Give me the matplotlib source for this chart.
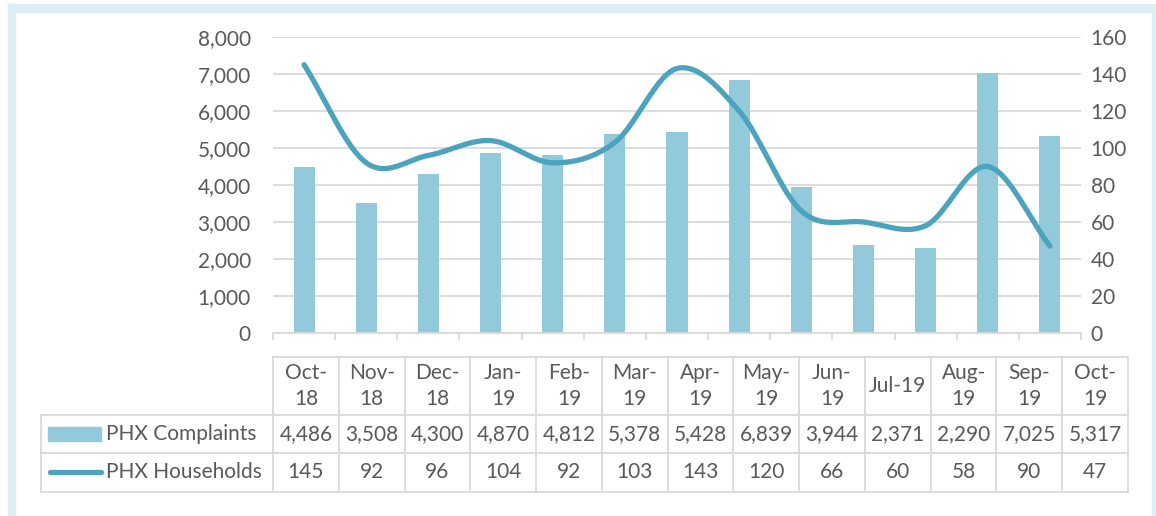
import numpy as np
import matplotlib
matplotlib.use("Agg")
import matplotlib.pyplot as plt
from matplotlib.patches import Rectangle
from matplotlib.lines import Line2D
from matplotlib.ticker import FuncFormatter, MultipleLocator

plt.rcParams['font.family'] = ['Lato', 'DejaVu Sans']

months = ["Oct-18", "Nov-18", "Dec-18", "Jan-19", "Feb-19", "Mar-19", "Apr-19",
          "May-19", "Jun-19", "Jul-19", "Aug-19", "Sep-19", "Oct-19"]
header_labels = ["Oct-\n18", "Nov-\n18", "Dec-\n18", "Jan-\n19", "Feb-\n19", "Mar-\n19", "Apr-\n19",
                 "May-\n19", "Jun-\n19", "Jul-19", "Aug-\n19", "Sep-\n19", "Oct-\n19"]
complaints = [4486, 3508, 4300, 4870, 4812, 5378, 5428, 6839, 3944, 2371, 2290, 7025, 5317]
households = [145, 92, 96, 104, 92, 103, 143, 120, 66, 60, 58, 90, 47]
series_names = ["PHX Complaints", "PHX Households"]

bar_color = "#92CADC"
line_color = "#4BA3BE"
grid_color = "#D9D9D9"
text_color = "#595959"
fs = 15

W, H = 1156, 516
fig = plt.figure(figsize=(W / 100, H / 100), dpi=100)


def fx(px):
    return px / W


def fy(py):
    # py measured from top
    return 1 - py / H


# light blue frame (cropped at bottom)
fig.patches.append(Rectangle((fx(8), fy(H)), fx(7), fy(4) - fy(H), transform=fig.transFigure,
                             color="#DAEEF3", zorder=0))
fig.patches.append(Rectangle((fx(8), fy(12)), fx(W - 8), fy(4) - fy(12), transform=fig.transFigure,
                             color="#DAEEF3", zorder=0))
fig.patches.append(Rectangle((fx(1152), fy(H)), fx(4), fy(12) - fy(H), transform=fig.transFigure,
                             color="#DAEEF3", zorder=0))

# plot area
left, right, top, bottom = 273, 1081, 37, 333
ax = fig.add_axes([fx(left), fy(bottom), fx(right - left), fy(top) - fy(bottom)])
ax2 = ax.twinx()

x = np.arange(len(months))
ax.bar(x, complaints, width=0.34, color=bar_color, zorder=2)
ax.set_xlim(-0.5, len(months) - 0.5)
ax.set_ylim(0, 8000)
ax.yaxis.set_major_locator(MultipleLocator(1000))
ax.yaxis.set_major_formatter(FuncFormatter(lambda v, p: f"{int(v):,}"))
ax.grid(axis="y", color=grid_color, lw=1.3, zorder=0)
ax.set_axisbelow(True)

# smooth line (Catmull-Rom, like Excel's smoothed line)
pts = np.array(households, dtype=float)
ext = np.concatenate([[2 * pts[0] - pts[1]], pts, [2 * pts[-1] - pts[-2]]])
xe = np.concatenate([[x[0] - 1], x, [x[-1] + 1]]).astype(float)
xs, ys = [], []
t = np.linspace(0, 1, 40)
for i in range(1, len(ext) - 2):
    p0, p1, p2, p3 = ext[i - 1], ext[i], ext[i + 1], ext[i + 2]
    q0, q1, q2, q3 = xe[i - 1], xe[i], xe[i + 1], xe[i + 2]
    for arr, a0, a1, a2, a3 in ((ys, p0, p1, p2, p3), (xs, q0, q1, q2, q3)):
        arr.extend(0.5 * ((2 * a1) + (-a0 + a2) * t + (2 * a0 - 5 * a1 + 4 * a2 - a3) * t ** 2
                          + (-a0 + 3 * a1 - 3 * a2 + a3) * t ** 3))
ax2.plot(xs, ys, color=line_color, lw=3.8, solid_capstyle="round", zorder=3)
ax2.set_ylim(0, 160)
ax2.yaxis.set_major_locator(MultipleLocator(20))

for a in (ax, ax2):
    for s in a.spines.values():
        s.set_visible(False)
    a.tick_params(axis="y", length=0, labelsize=fs, labelcolor=text_color)
ax.tick_params(axis="y", pad=16)
ax2.tick_params(axis="y", pad=7)
ax.spines["bottom"].set_visible(True)
ax.spines["bottom"].set_color(grid_color)
ax.spines["bottom"].set_linewidth(1.3)
ax.set_xticks([])
ax.set_xticks(np.arange(-0.5, len(months)), minor=True)
ax.tick_params(axis="x", which="minor", length=5, color=grid_color, width=1.3)

# data table
col0, col_w = 273, (1128 - 273) / len(months)
legend_left = 41
y_head, y_r1, y_r2, y_end = 357, 415, 453, 492
lkw = dict(color=grid_color, lw=1.3, transform=fig.transFigure)
fig.lines.append(Line2D([fx(col0), fx(1128)], [fy(y_head)] * 2, **lkw))
for yy in (y_r1, y_r2, y_end):
    fig.lines.append(Line2D([fx(legend_left), fx(1128)], [fy(yy)] * 2, **lkw))
fig.lines.append(Line2D([fx(legend_left)] * 2, [fy(y_r1), fy(y_end)], **lkw))
for i in range(len(months) + 1):
    xx = col0 + i * col_w
    fig.lines.append(Line2D([fx(xx)] * 2, [fy(y_head), fy(y_end)], **lkw))

for i in range(len(months)):
    cx = col0 + (i + 0.5) * col_w
    fig.text(fx(cx), fy((y_head + y_r1) / 2), header_labels[i], ha="center", va="center",
             fontsize=fs, color=text_color, linespacing=1.4)
    fig.text(fx(cx), fy((y_r1 + y_r2) / 2), f"{complaints[i]:,}", ha="center", va="center",
             fontsize=fs, color=text_color)
    fig.text(fx(cx), fy((y_r2 + y_end) / 2), f"{households[i]:,}", ha="center", va="center",
             fontsize=fs, color=text_color)

# legend keys in table
fig.patches.append(Rectangle((fx(48), fy(441)), fx(53), fy(427) - fy(441), transform=fig.transFigure,
                             color=bar_color))
fig.lines.append(Line2D([fx(50), fx(101)], [fy(472)] * 2, color=line_color, lw=3.8,
                        solid_capstyle="round", transform=fig.transFigure))
fig.text(fx(106), fy((y_r1 + y_r2) / 2), series_names[0], ha="left", va="center", fontsize=fs, color=text_color)
fig.text(fx(106), fy((y_r2 + y_end) / 2), series_names[1], ha="left", va="center", fontsize=fs, color=text_color)

fig.savefig("out.png", dpi=100)
